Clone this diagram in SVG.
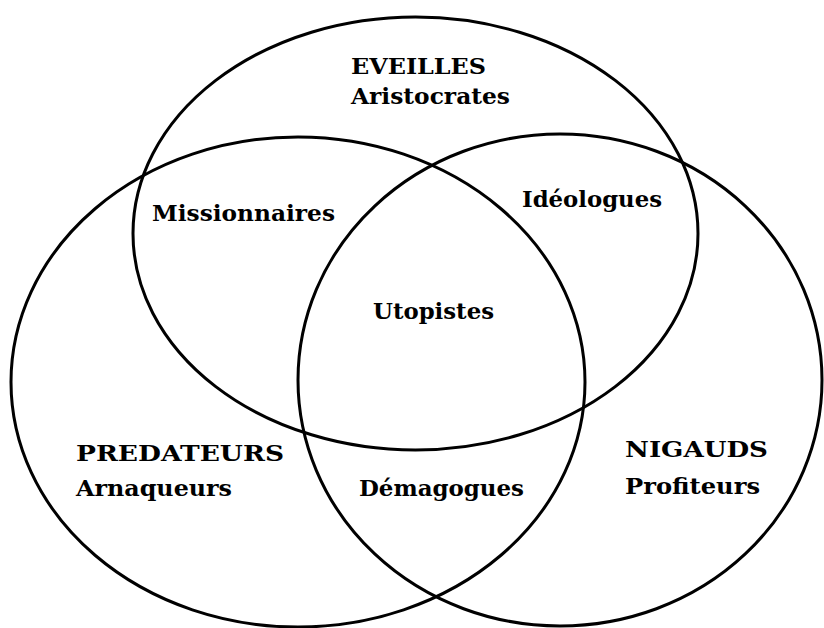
<svg xmlns="http://www.w3.org/2000/svg" width="824" height="628" viewBox="0 0 824 628">
<style>
.c{fill:none;stroke:#000;stroke-width:3}
text{font-family:"DejaVu Serif","Liberation Serif",serif;font-weight:bold;font-size:23px;fill:#000}
</style>
<rect width="824" height="628" fill="#fff"/>
<g id="connectors"></g>
<g id="eveilles">
<ellipse class="c" cx="415.5" cy="233.5" rx="282.5" ry="216.5"/>
<text x="351" y="74" textLength="135" lengthAdjust="spacingAndGlyphs">EVEILLES</text>
<text x="351" y="104" textLength="159" lengthAdjust="spacingAndGlyphs">Aristocrates</text>
</g>
<g id="predateurs">
<ellipse class="c" cx="298" cy="382" rx="287" ry="245"/>
<text x="76" y="461" textLength="208" lengthAdjust="spacingAndGlyphs">PREDATEURS</text>
<text x="76" y="496" textLength="156" lengthAdjust="spacingAndGlyphs">Arnaqueurs</text>
</g>
<g id="nigauds">
<ellipse class="c" cx="560" cy="380" rx="262" ry="246"/>
<text x="625" y="457" textLength="143" lengthAdjust="spacingAndGlyphs">NIGAUDS</text>
<text x="625" y="494" textLength="135" lengthAdjust="spacingAndGlyphs">Profiteurs</text>
</g>
<g id="missionnaires"><text x="152" y="221" textLength="183" lengthAdjust="spacingAndGlyphs">Missionnaires</text></g>
<g id="ideologues"><text x="522" y="207" textLength="140" lengthAdjust="spacingAndGlyphs">Idéologues</text></g>
<g id="utopistes"><text x="373" y="319" textLength="121" lengthAdjust="spacingAndGlyphs">Utopistes</text></g>
<g id="demagogues"><text x="359" y="496" textLength="165" lengthAdjust="spacingAndGlyphs">Démagogues</text></g>
</svg>
